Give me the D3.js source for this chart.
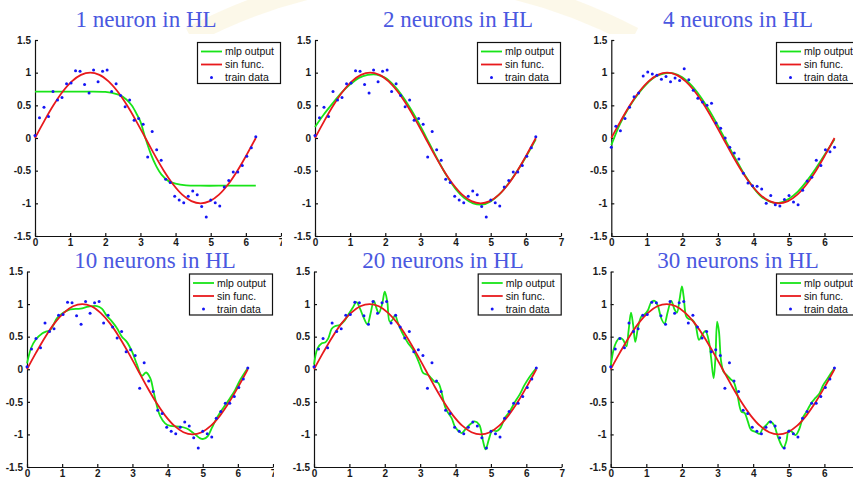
<!DOCTYPE html>
<html>
<head>
<meta charset="utf-8">
<script src="https://cdn.jsdelivr.net/npm/d3@7"></script>
<style>
  html, body { margin: 0; padding: 0; background: #fff; overflow: hidden; }
</style>
</head>
<body>
<svg id="chart" width="853" height="479"></svg>
<script>
// ---- data ----------------------------------------------------------------
const titles = ["1 neuron in HL", "2 neurons in HL", "4 neurons in HL",
                "10 neurons in HL", "20 neurons in HL", "30 neurons in HL"];
const legendLabels = ["mlp output", "sin func.", "train data"];
const ticksX = [0, 1, 2, 3, 4, 5, 6, 7];
const ticksY = [-1.5, -1, -0.5, 0, 0.5, 1, 1.5];
const tickLabelsX = ["0", "1", "2", "3", "4", "5", "6", "7"];
const tickLabelsY = ["-1.5", "-1", "-0.5", "0", "0.5", "1", "1.5"];

// training inputs (50 samples over one period)
const trainX = [0, 0.128, 0.256, 0.385, 0.513, 0.641, 0.769, 0.898, 1.026, 1.154,
  1.282, 1.411, 1.539, 1.667, 1.795, 1.923, 2.052, 2.180, 2.308, 2.436,
  2.565, 2.693, 2.821, 2.949, 3.078, 3.206, 3.334, 3.462, 3.590, 3.719,
  3.847, 3.975, 4.103, 4.232, 4.360, 4.488, 4.616, 4.744, 4.873, 5.001,
  5.129, 5.257, 5.386, 5.514, 5.642, 5.770, 5.899, 6.027, 6.155, 6.283];
// noisy targets, first training set
const trainYA = [0.04, 0.31, 0.47, 0.33, 0.71, 0.58, 0.62, 0.83, 0.84, 1.03,
  1.02, 0.82, 0.69, 1.04, 0.86, 1.02, 1.04, 0.71, 0.83, 0.65,
  0.48, 0.58, 0.27, 0.30, 0.21, -0.29, 0.10, -0.18, -0.34, -0.63,
  -0.68, -0.89, -0.95, -0.99, -0.89, -0.81, -0.87, -1.05, -1.21, -0.95,
  -0.99, -1.04, -0.75, -0.65, -0.52, -0.52, -0.42, -0.28, -0.15, 0.02];
// noisy targets, second training set
const trainYB = [-0.14, 0.18, 0.11, 0.30, 0.47, 0.63, 0.69, 0.95, 1.01, 0.98,
  0.96, 0.90, 0.94, 0.86, 0.92, 0.88, 1.06, 0.89, 0.73, 0.61,
  0.55, 0.50, 0.53, 0.23, 0.15, 0.00, -0.14, -0.23, -0.32, -0.54,
  -0.69, -0.73, -0.74, -0.78, -1.00, -0.88, -1.02, -1.04, -0.94, -0.88,
  -0.98, -1.02, -0.80, -0.66, -0.60, -0.34, -0.42, -0.18, -0.21, -0.14];

// reference sine curve samples
const sinX = [0, 0.262, 0.524, 0.785, 1.047, 1.309, 1.571, 1.833, 2.094, 2.356,
  2.618, 2.880, 3.142, 3.403, 3.665, 3.927, 4.189, 4.451, 4.712, 4.974,
  5.236, 5.498, 5.760, 6.021, 6.283];
const sinY = [0, 0.259, 0.5, 0.707, 0.866, 0.966, 1, 0.966, 0.866, 0.707,
  0.5, 0.259, 0, -0.259, -0.5, -0.707, -0.866, -0.966, -1, -0.966,
  -0.866, -0.707, -0.5, -0.259, 0];

// network outputs
const mlp1X = [0, 1.5, 2.0, 2.2, 2.4, 2.6, 2.75, 2.9, 3.0, 3.14, 3.3, 3.45, 3.6, 3.8, 4.0, 4.3, 4.7, 5.5, 6.283];
const mlp1Y = [0.71, 0.71, 0.705, 0.69, 0.66, 0.59, 0.50, 0.36, 0.25, 0.0, -0.25, -0.43, -0.56, -0.66, -0.70, -0.725, -0.73, -0.73, -0.73];

const mlp2X = [0, 0.25, 0.5, 0.75, 1.0, 1.25, 1.5, 1.75, 2.0, 2.25, 2.5, 2.75, 3.0, 3.25,
  3.5, 3.75, 4.0, 4.25, 4.5, 4.75, 5.0, 5.25, 5.5, 5.75, 6.0, 6.283];
const mlp2Y = [0.17, 0.36, 0.53, 0.69, 0.82, 0.92, 0.965, 0.97, 0.92, 0.80, 0.63, 0.42, 0.18, -0.08,
  -0.34, -0.58, -0.78, -0.92, -1.0, -1.02, -0.97, -0.86, -0.70, -0.51, -0.29, -0.02];

const mlp3X = [0, 0.25, 0.5, 0.75, 1.0, 1.25, 1.5, 1.75, 2.0, 2.25, 2.5, 2.75, 3.0, 3.25,
  3.5, 3.75, 4.0, 4.25, 4.5, 4.75, 5.0, 5.25, 5.5, 5.75, 6.0, 6.283];
const mlp3Y = [-0.11, 0.22, 0.47, 0.67, 0.83, 0.94, 0.99, 0.99, 0.93, 0.81, 0.64, 0.43, 0.19, -0.07,
  -0.32, -0.56, -0.76, -0.91, -0.98, -0.99, -0.93, -0.82, -0.66, -0.47, -0.26, -0.02];

const mlp10X = [0, 0.12, 0.24, 0.43, 0.55, 0.66, 0.75, 0.85, 1.04, 1.23, 1.52, 1.75, 1.99, 2.13,
  2.27, 2.42, 2.56, 2.70, 2.84, 2.99, 3.13, 3.27, 3.39, 3.51, 3.60, 3.70, 3.79, 3.93,
  4.08, 4.36, 4.55, 4.74, 4.93, 5.02, 5.14, 5.26, 5.38, 5.50, 5.64, 5.78, 5.92, 6.07, 6.283];
const mlp10Y = [0.09, 0.33, 0.45, 0.55, 0.58, 0.60, 0.68, 0.78, 0.87, 0.92, 0.93, 0.96, 0.97, 0.93,
  0.82, 0.73, 0.63, 0.50, 0.42, 0.27, 0.07, -0.10, -0.05, -0.14, -0.34, -0.57, -0.72, -0.83,
  -0.87, -0.88, -0.91, -0.98, -1.06, -1.07, -1.03, -0.90, -0.77, -0.66, -0.55, -0.44, -0.32, -0.16, 0.02];

const mlp20X = [0, 0.10, 0.22, 0.31, 0.40, 0.50, 0.59, 0.73, 0.87, 0.97, 1.09, 1.20, 1.30, 1.39,
  1.51, 1.60, 1.69, 1.77, 1.83, 1.93, 2.00, 2.07, 2.14, 2.22, 2.29, 2.38, 2.52, 2.66,
  2.80, 2.90, 2.99, 3.09, 3.23, 3.32, 3.41, 3.51, 3.60, 3.70, 3.79, 3.89, 3.98, 4.07,
  4.17, 4.31, 4.45, 4.54, 4.67, 4.78, 4.85, 4.95, 5.04, 5.16, 5.27, 5.39, 5.53, 5.67,
  5.81, 5.95, 6.10, 6.283];
const mlp20Y = [0.07, 0.32, 0.40, 0.41, 0.47, 0.62, 0.66, 0.68, 0.75, 0.84, 0.94, 1.03, 0.93, 0.81,
  0.69, 0.86, 1.05, 0.93, 0.86, 1.01, 1.19, 1.04, 0.73, 0.76, 0.83, 0.70, 0.53, 0.40,
  0.30, 0.19, 0.07, -0.06, -0.09, -0.14, -0.19, -0.21, -0.34, -0.57, -0.67, -0.75, -0.88, -0.94,
  -0.98, -0.90, -0.83, -0.80, -0.85, -1.11, -1.23, -1.06, -0.94, -0.95, -0.90, -0.75, -0.65, -0.51,
  -0.39, -0.24, -0.11, 0.02];

const mlp30X = [0, 0.08, 0.16, 0.25, 0.35, 0.44, 0.50, 0.57, 0.63, 0.69, 0.77, 0.86, 0.95, 1.05,
  1.14, 1.23, 1.32, 1.42, 1.51, 1.60, 1.70, 1.79, 1.86, 1.93, 2.00, 2.05, 2.12, 2.19,
  2.29, 2.38, 2.48, 2.57, 2.66, 2.76, 2.82, 2.89, 2.94, 2.99, 3.04, 3.10, 3.17, 3.26,
  3.36, 3.45, 3.55, 3.67, 3.76, 3.85, 3.94, 4.07, 4.18, 4.27, 4.38, 4.47, 4.58, 4.69,
  4.79, 4.85, 4.93, 5.00, 5.09, 5.19, 5.30, 5.39, 5.50, 5.63, 5.75, 5.86, 5.97, 6.09, 6.283];
const mlp30Y = [0.04, 0.30, 0.42, 0.48, 0.45, 0.35, 0.58, 0.87, 0.68, 0.42, 0.65, 0.81, 0.84, 0.91,
  1.03, 1.05, 0.98, 0.78, 0.70, 0.88, 1.05, 0.92, 0.87, 1.06, 1.27, 1.11, 0.81, 0.77,
  0.76, 0.68, 0.45, 0.53, 0.59, 0.42, 0.17, -0.14, 0.17, 0.73, 0.58, 0.12, -0.04, -0.09,
  -0.15, -0.19, -0.37, -0.65, -0.67, -0.80, -0.93, -0.96, -0.99, -0.91, -0.85, -0.80, -0.85, -1.03,
  -1.16, -1.21, -1.11, -0.94, -0.96, -1.01, -0.91, -0.75, -0.65, -0.52, -0.44, -0.37, -0.24, -0.14, 0.02];

// ---- layout --------------------------------------------------------------
const panels = [
  { title: titles[0], mlpX: mlp1X,  mlpY: mlp1Y,  trainY: trainYA, x0: 35,    x7: 281,   top: 40,    bottom: 236, clip: [0, 282, 30, 250],   tx: 146, ty: 27 },
  { title: titles[1], mlpX: mlp2X,  mlpY: mlp2Y,  trainY: trainYA, x0: 315,   x7: 561,   top: 40,    bottom: 236, clip: [282, 566, 30, 250], tx: 458, ty: 27 },
  { title: titles[2], mlpX: mlp3X,  mlpY: mlp3Y,  trainY: trainYB, x0: 611.3, x7: 860,   top: 40,    bottom: 236, clip: [566, 853, 30, 250], tx: 738, ty: 27 },
  { title: titles[3], mlpX: mlp10X, mlpY: mlp10Y, trainY: trainYA, x0: 27,    x7: 273,   top: 271.5, bottom: 467, clip: [0, 274, 250, 479], tx: 155, ty: 267.5 },
  { title: titles[4], mlpX: mlp20X, mlpY: mlp20Y, trainY: trainYA, x0: 314,   x7: 561.7, top: 271.5, bottom: 467, clip: [274, 566, 250, 479], tx: 443, ty: 267.5 },
  { title: titles[5], mlpX: mlp30X, mlpY: mlp30Y, trainY: trainYA, x0: 610.7, x7: 860,   top: 271.5, bottom: 467, clip: [566, 853, 250, 479], tx: 738, ty: 267.5 }
];

const GREEN = "#18e418", RED = "#e8191c", BLUE = "#1515f5";
const AXIS_FONT = "'Liberation Sans', Arial, Helvetica, sans-serif";
const TITLE_FONT = "'Liberation Serif', 'Times New Roman', serif";
const W = 853;

const svg = d3.select("#chart");
svg.append("rect").attr("width", W).attr("height", 479).attr("fill", "#fff");

// faint emblem behind the top titles
svg.append("path")
  .attr("d", "M190,36 Q410,-80 634,36")
  .attr("fill", "none").attr("stroke", "#f8efcf").attr("stroke-width", 18).attr("opacity", 0.45);

const defs = svg.append("defs");

panels.forEach((p, i) => {
  defs.append("clipPath").attr("id", "clip" + i)
    .append("rect").attr("x", p.clip[0]).attr("y", p.clip[2])
    .attr("width", p.clip[1] - p.clip[0]).attr("height", p.clip[3] - p.clip[2]);

  const g = svg.append("g").attr("clip-path", `url(#clip${i})`);
  // white sheet of each figure
  g.append("rect").attr("x", p.clip[0]).attr("y", p.clip[2] + (i < 3 ? 4 : 0))
    .attr("width", p.clip[1] - p.clip[0]).attr("height", p.clip[3] - p.clip[2]).attr("fill", "#fff");

  const x = d3.scaleLinear().domain([0, 7]).range([p.x0, p.x7]);
  const y = d3.scaleLinear().domain([-1.5, 1.5]).range([p.bottom, p.top]);

  // only label ticks that fall inside the page
  const shownX = ticksX.filter(v => x(v) < W - 4);

  const yAxis = d3.axisLeft(y).tickValues(ticksY).tickFormat((d, k) => tickLabelsY[k])
    .tickSizeInner(-3).tickSizeOuter(0).tickPadding(4);
  const xAxis = d3.axisBottom(x).tickValues(shownX).tickFormat(d => tickLabelsX[ticksX.indexOf(d)])
    .tickSizeInner(-3).tickSizeOuter(0).tickPadding(3);

  const ga = g.append("g").attr("transform", `translate(${p.x0},0)`).call(yAxis);
  const gb = g.append("g").attr("transform", `translate(0,${p.bottom})`).call(xAxis);
  [ga, gb].forEach(a => {
    a.attr("font-family", AXIS_FONT).attr("font-size", 10).attr("font-weight", "bold");
    a.selectAll("path, line").attr("stroke", "#111").attr("stroke-width", 1.2);
    a.selectAll("text").attr("fill", "#1a1a1a");
  });

  const line = d3.line().x(d => x(d[0])).y(d => y(d[1])).curve(d3.curveCatmullRom.alpha(0.5));

  g.append("path").datum(p.mlpX.map((v, k) => [v, p.mlpY[k]]))
    .attr("d", line).attr("fill", "none").attr("stroke", GREEN).attr("stroke-width", 1.8);
  g.append("path").datum(sinX.map((v, k) => [v, sinY[k]]))
    .attr("d", line).attr("fill", "none").attr("stroke", RED).attr("stroke-width", 1.8);

  g.append("g").selectAll("circle").data(trainX.map((v, k) => [v, p.trainY[k]]))
    .join("circle").attr("cx", d => x(d[0])).attr("cy", d => y(d[1]))
    .attr("r", 1.5).attr("fill", BLUE);

  // legend
  const lw = 83, lh = 41;
  const lx = p.x7 - 1 - lw, ly = p.top + 2;
  const lg = g.append("g").attr("transform", `translate(${lx},${ly})`);
  lg.append("rect").attr("x", 0.5).attr("y", 0.5).attr("width", lw).attr("height", lh)
    .attr("fill", "#fff").attr("stroke", "#111").attr("stroke-width", 1.2);
  const rows = [9.5, 22.5, 35.5];
  lg.append("line").attr("x1", 4).attr("x2", 25).attr("y1", rows[0]).attr("y2", rows[0])
    .attr("stroke", GREEN).attr("stroke-width", 1.8);
  lg.append("line").attr("x1", 4).attr("x2", 25).attr("y1", rows[1]).attr("y2", rows[1])
    .attr("stroke", RED).attr("stroke-width", 1.8);
  lg.append("circle").attr("cx", 14.5).attr("cy", rows[2]).attr("r", 1.5).attr("fill", BLUE);
  lg.selectAll("text").data(legendLabels).join("text")
    .attr("x", 28).attr("y", (d, k) => rows[k]).attr("dy", "0.35em")
    .attr("font-family", AXIS_FONT).attr("font-size", 10.5).attr("fill", "#111")
    .text(d => d);
});

// titles
svg.append("g").selectAll("text").data(panels).join("text")
  .attr("x", d => d.tx).attr("y", d => d.ty)
  .attr("text-anchor", "middle")
  .attr("font-family", TITLE_FONT).attr("font-size", 23)
  .attr("fill", "#4a58e0")
  .text(d => d.title);
</script>
</body>
</html>
